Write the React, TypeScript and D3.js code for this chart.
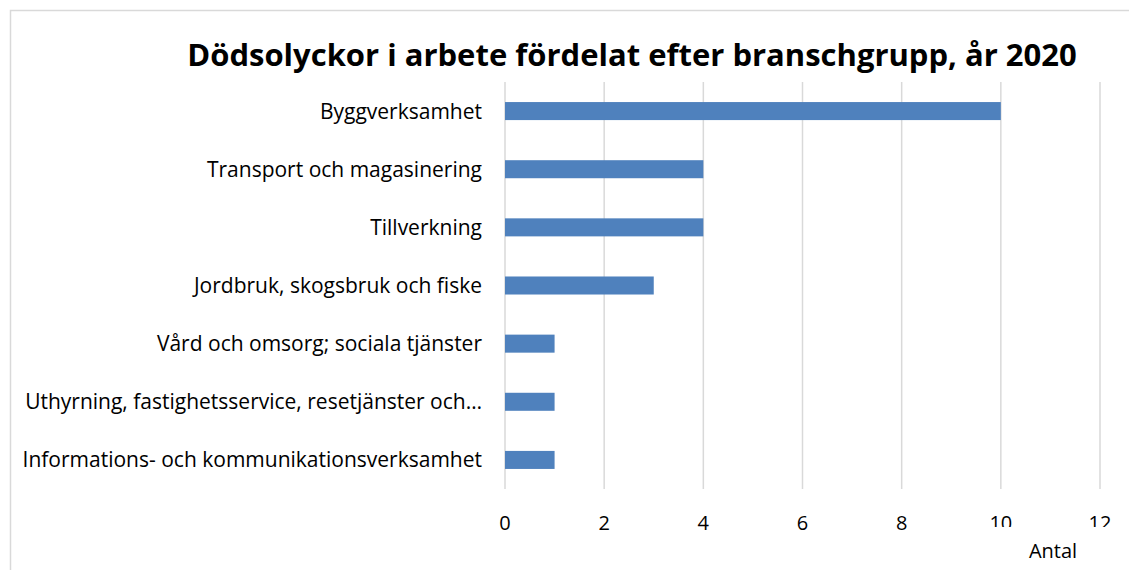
import React, { useRef, useEffect } from 'react';
import * as d3 from 'd3';

// Dödsolyckor per branschgrupp, 2020
const categories = [
  'Byggverksamhet',
  'Transport och magasinering',
  'Tillverkning',
  'Jordbruk, skogsbruk och fiske',
  'Vård och omsorg; sociala tjänster',
  'Uthyrning, fastighetsservice, resetjänster och…',
  'Informations- och kommunikationsverksamhet',
];
const values = [10, 4, 4, 3, 1, 1, 1];
const xTicks = [0, 2, 4, 6, 8, 10, 12];

const W = 1129;
const H = 570;
const FONT = '"Open Sans", Lato, sans-serif';

const App = () => {
  const svgRef = useRef<SVGSVGElement>(null);

  useEffect(() => {
    const svg = d3.select(svgRef.current);
    svg.selectAll('*').remove();

    const left = 505, right = 1100, top = 82, bottom = 489;

    const x = d3.scaleLinear().domain([0, 12]).range([left, right]);
    const y = d3.scaleBand().domain(categories).range([top, bottom]).paddingInner(0.69).paddingOuter(0.345);

    // frame
    svg.append('path')
      .attr('d', `M10.5,${H} L10.5,10.5 L${W},10.5`)
      .attr('fill', 'none')
      .attr('stroke', '#d9d9d9')
      .attr('stroke-width', 1.5);

    svg.append('text')
      .attr('x', 632).attr('y', 66)
      .attr('text-anchor', 'middle')
      .attr('font-family', FONT)
      .attr('font-weight', 700)
      .attr('font-size', 31)
      .text('Dödsolyckor i arbete fördelat efter branschgrupp, år 2020');

    // gridlines
    svg.append('g').selectAll('line')
      .data(xTicks)
      .enter().append('line')
      .attr('x1', d => x(d)).attr('x2', d => x(d))
      .attr('y1', top).attr('y2', bottom)
      .attr('stroke', '#d9d9d9')
      .attr('stroke-width', 1.5);

    // bars
    svg.append('g').selectAll('rect')
      .data(values)
      .enter().append('rect')
      .attr('x', x(0))
      .attr('y', (d, i) => y(categories[i])!)
      .attr('width', d => x(d) - x(0))
      .attr('height', y.bandwidth())
      .attr('fill', '#4f81bd');

    // category labels
    svg.append('g').selectAll('text')
      .data(categories)
      .enter().append('text')
      .attr('x', 482)
      .attr('y', d => y(d)! + y.bandwidth() / 2)
      .attr('dy', '0.36em')
      .attr('text-anchor', 'end')
      .attr('font-family', FONT)
      .attr('font-size', 21)
      .attr('fill', '#000')
      .text(d => d);

    // the last two tick labels are cut off at the bottom in the source
    svg.append('clipPath').attr('id', 'tickclip')
      .append('rect').attr('x', 0).attr('y', 0).attr('width', W).attr('height', 527);

    svg.append('g')
      .selectAll('text')
      .data(xTicks)
      .enter().append('text')
      .attr('clip-path', d => (d >= 10 ? 'url(#tickclip)' : null))
      .attr('x', d => x(d))
      .attr('y', 530)
      .attr('text-anchor', 'middle')
      .attr('font-family', FONT)
      .attr('font-size', 20)
      .text(d => d);

    svg.append('text')
      .attr('x', 1053).attr('y', 558)
      .attr('text-anchor', 'middle')
      .attr('font-family', FONT)
      .attr('font-size', 20)
      .text('Antal');
  }, []);

  return (
    <svg ref={svgRef} width={W} height={H}
      style={{ position: 'absolute', left: 0, top: 0, background: '#fff' }} />
  );
};

export default App;
